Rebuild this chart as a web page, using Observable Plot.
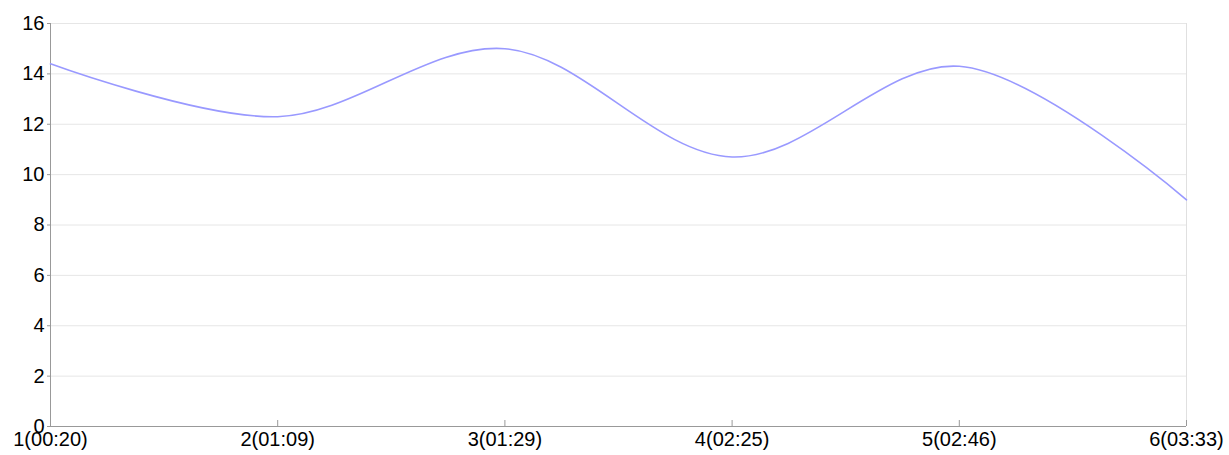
<!DOCTYPE html>
<html>
<head>
<meta charset="utf-8">
<script src="https://cdn.jsdelivr.net/npm/d3@7"></script>
<script src="https://cdn.jsdelivr.net/npm/@observablehq/plot@0.6"></script>
<style>
  html, body { margin: 0; padding: 0; background: #fff; }
  svg { display: block; }
</style>
</head>
<body>
<div id="chart"></div>
<script>
const positions = [1, 2, 3, 4, 5, 6];
const xLabels = ["1(00:20)", "2(01:09)", "3(01:29)", "4(02:25)", "5(02:46)", "6(03:33)"];
const values = [14.4, 12.3, 15.0, 10.7, 14.3, 9.0];
const yTicks = [0, 2, 4, 6, 8, 10, 12, 14, 16];

const data = positions.map((p, i) => ({x: p, y: values[i]}));

const W = 1229, H = 455;
const mTop = 23, mBottom = 29, mLeft = 50, mRight = 43;

const chart = Plot.plot({
  width: W,
  height: H,
  marginTop: mTop,
  marginBottom: mBottom,
  marginLeft: mLeft,
  marginRight: mRight,
  style: {fontFamily: "'Liberation Sans', Arial, sans-serif", fontSize: "20px", color: "#000", background: "#fff"},
  x: {domain: [1, 6]},
  y: {domain: [0, 16]},
  marks: [
    Plot.ruleY(yTicks.slice(1), {y: d => d, stroke: "#e6e6e6", strokeOpacity: 1}),
    Plot.ruleX([6], {x: d => d, stroke: "#e0e0e0", strokeOpacity: 1}),
    Plot.tickX(positions.slice(1), {x: d => d, stroke: "#999", strokeOpacity: 1, insetTop: H - mTop - mBottom - 6}),
    Plot.ruleY([0], {y: d => d, stroke: "#999", strokeOpacity: 1}),
    Plot.ruleX([1], {x: d => d, stroke: "#999", strokeOpacity: 1}),
    Plot.axisY({ticks: yTicks, tickSize: 3, tickPadding: 3, tickFormat: d => String(d), label: null, stroke: "#999", fill: "#000"}),
    Plot.axisX({ticks: positions, tickSize: 0, tickPadding: 5, tickFormat: (d, i) => xLabels[positions.indexOf(d)], label: null, fill: "#000"}),
    Plot.line(data, {x: "x", y: "y", curve: "catmull-rom", stroke: "#9999ff", strokeWidth: 1.6})
  ]
});
document.getElementById("chart").appendChild(chart);
</script>
</body>
</html>
